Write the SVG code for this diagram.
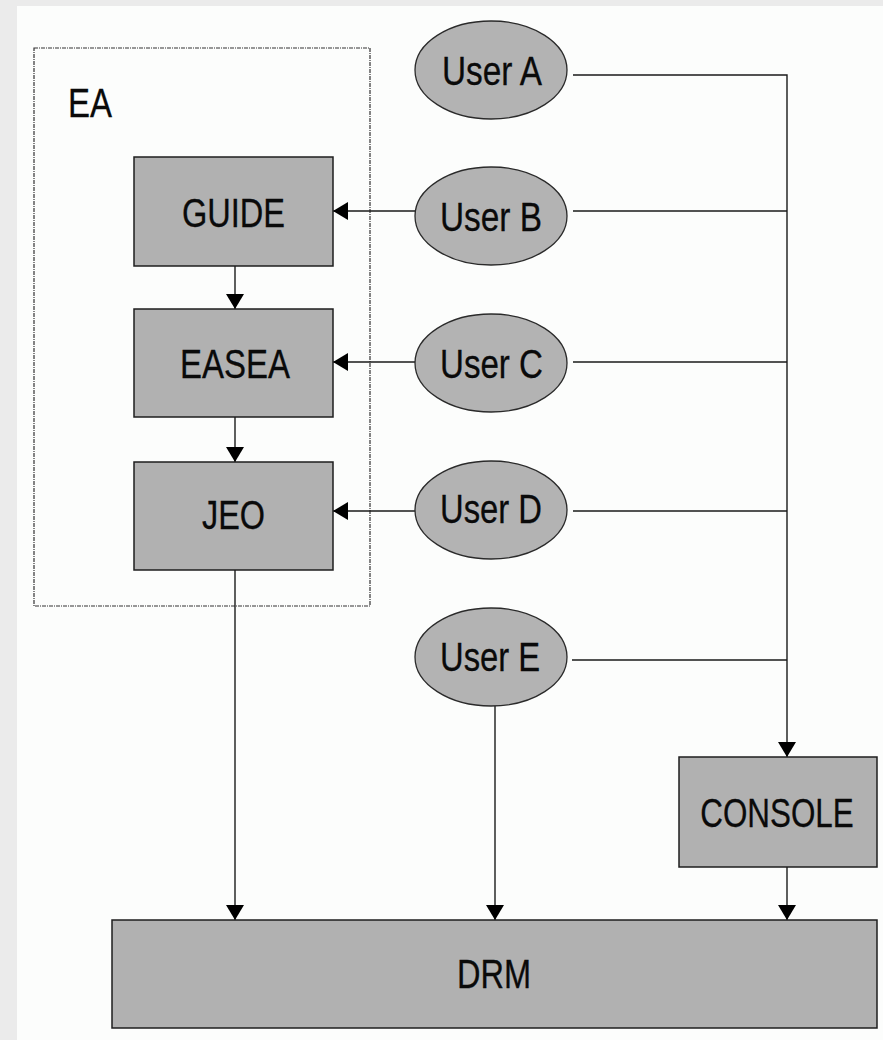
<svg xmlns="http://www.w3.org/2000/svg" width="883" height="1040" viewBox="0 0 883 1040">
<style>
.box{fill:#b1b1b1;stroke:#1e1e1e;stroke-width:1.5}
.ell{fill:#b3b3b3;stroke:#2a2a2a;stroke-width:1.3}
.lbl{font-family:"Liberation Sans",Arial,sans-serif;font-size:40px;fill:#0a0a0a;stroke:#0a0a0a;stroke-width:0.3;text-anchor:middle}
.ln{fill:none;stroke:#1a1a1a;stroke-width:1.4}
.grp{fill:none;stroke:#333;stroke-width:1.2;stroke-dasharray:4,1,1,1}
</style>
<defs>
<marker id="arr" viewBox="0 -9 15 18" refX="15" refY="0" markerWidth="15" markerHeight="18" markerUnits="userSpaceOnUse" orient="auto">
<path d="M0,-9 L15,0 L0,9 z" fill="#000"/>
</marker>
</defs>
<rect x="0" y="0" width="883" height="1040" fill="#ebebeb"/>
<rect x="17" y="6" width="866" height="1034" fill="#fcfdfc"/>

<g id="EA">
<rect class="grp" x="34" y="48" width="336" height="558"/>
<text class="lbl" x="90" y="117" textLength="44" lengthAdjust="spacingAndGlyphs">EA</text>
</g>

<g id="connectors">
<path class="ln" d="M573,75 H787 V757" marker-end="url(#arr)"/>
<path class="ln" d="M573,211 H787"/>
<path class="ln" d="M573,362 H787"/>
<path class="ln" d="M573,511 H787"/>
<path class="ln" d="M572,660 H787"/>
<path class="ln" d="M415,211 H333" marker-end="url(#arr)"/>
<path class="ln" d="M415,362 H333" marker-end="url(#arr)"/>
<path class="ln" d="M415,511 H333" marker-end="url(#arr)"/>
<path class="ln" d="M235,266 V309" marker-end="url(#arr)"/>
<path class="ln" d="M235,417 V462" marker-end="url(#arr)"/>
<path class="ln" d="M235,570 V920" marker-end="url(#arr)"/>
<path class="ln" d="M495,706 V920" marker-end="url(#arr)"/>
<path class="ln" d="M787,867 V920" marker-end="url(#arr)"/>
</g>

<g id="GUIDE">
<rect class="box" x="134" y="157" width="199" height="109"/>
<text class="lbl" x="233.5" y="227" textLength="103" lengthAdjust="spacingAndGlyphs">GUIDE</text>
</g>
<g id="EASEA">
<rect class="box" x="134" y="309" width="199" height="108"/>
<text class="lbl" x="235" y="378" textLength="110" lengthAdjust="spacingAndGlyphs">EASEA</text>
</g>
<g id="JEO">
<rect class="box" x="134" y="462" width="199" height="108"/>
<text class="lbl" x="233.5" y="529" textLength="63" lengthAdjust="spacingAndGlyphs">JEO</text>
</g>

<g id="UserA">
<ellipse class="ell" cx="491" cy="70" rx="76" ry="49"/>
<text class="lbl" x="492" y="85" textLength="100" lengthAdjust="spacingAndGlyphs">User A</text>
</g>
<g id="UserB">
<ellipse class="ell" cx="491" cy="216" rx="76" ry="49"/>
<text class="lbl" x="491" y="231" textLength="102" lengthAdjust="spacingAndGlyphs">User B</text>
</g>
<g id="UserC">
<ellipse class="ell" cx="491" cy="363" rx="76" ry="49"/>
<text class="lbl" x="491.5" y="378" textLength="103" lengthAdjust="spacingAndGlyphs">User C</text>
</g>
<g id="UserD">
<ellipse class="ell" cx="491" cy="510" rx="76" ry="49"/>
<text class="lbl" x="491" y="523" textLength="102" lengthAdjust="spacingAndGlyphs">User D</text>
</g>
<g id="UserE">
<ellipse class="ell" cx="491" cy="657" rx="76" ry="49"/>
<text class="lbl" x="490" y="671" textLength="100" lengthAdjust="spacingAndGlyphs">User E</text>
</g>

<g id="CONSOLE">
<rect class="box" x="679" y="757" width="198" height="110"/>
<text class="lbl" transform="translate(777,827) scale(0.785,1)" x="0" y="0">CONSOLE</text>
</g>
<g id="DRM">
<rect class="box" x="112" y="920" width="765" height="108"/>
<text class="lbl" x="494" y="988" textLength="74" lengthAdjust="spacingAndGlyphs">DRM</text>
</g>
</svg>
